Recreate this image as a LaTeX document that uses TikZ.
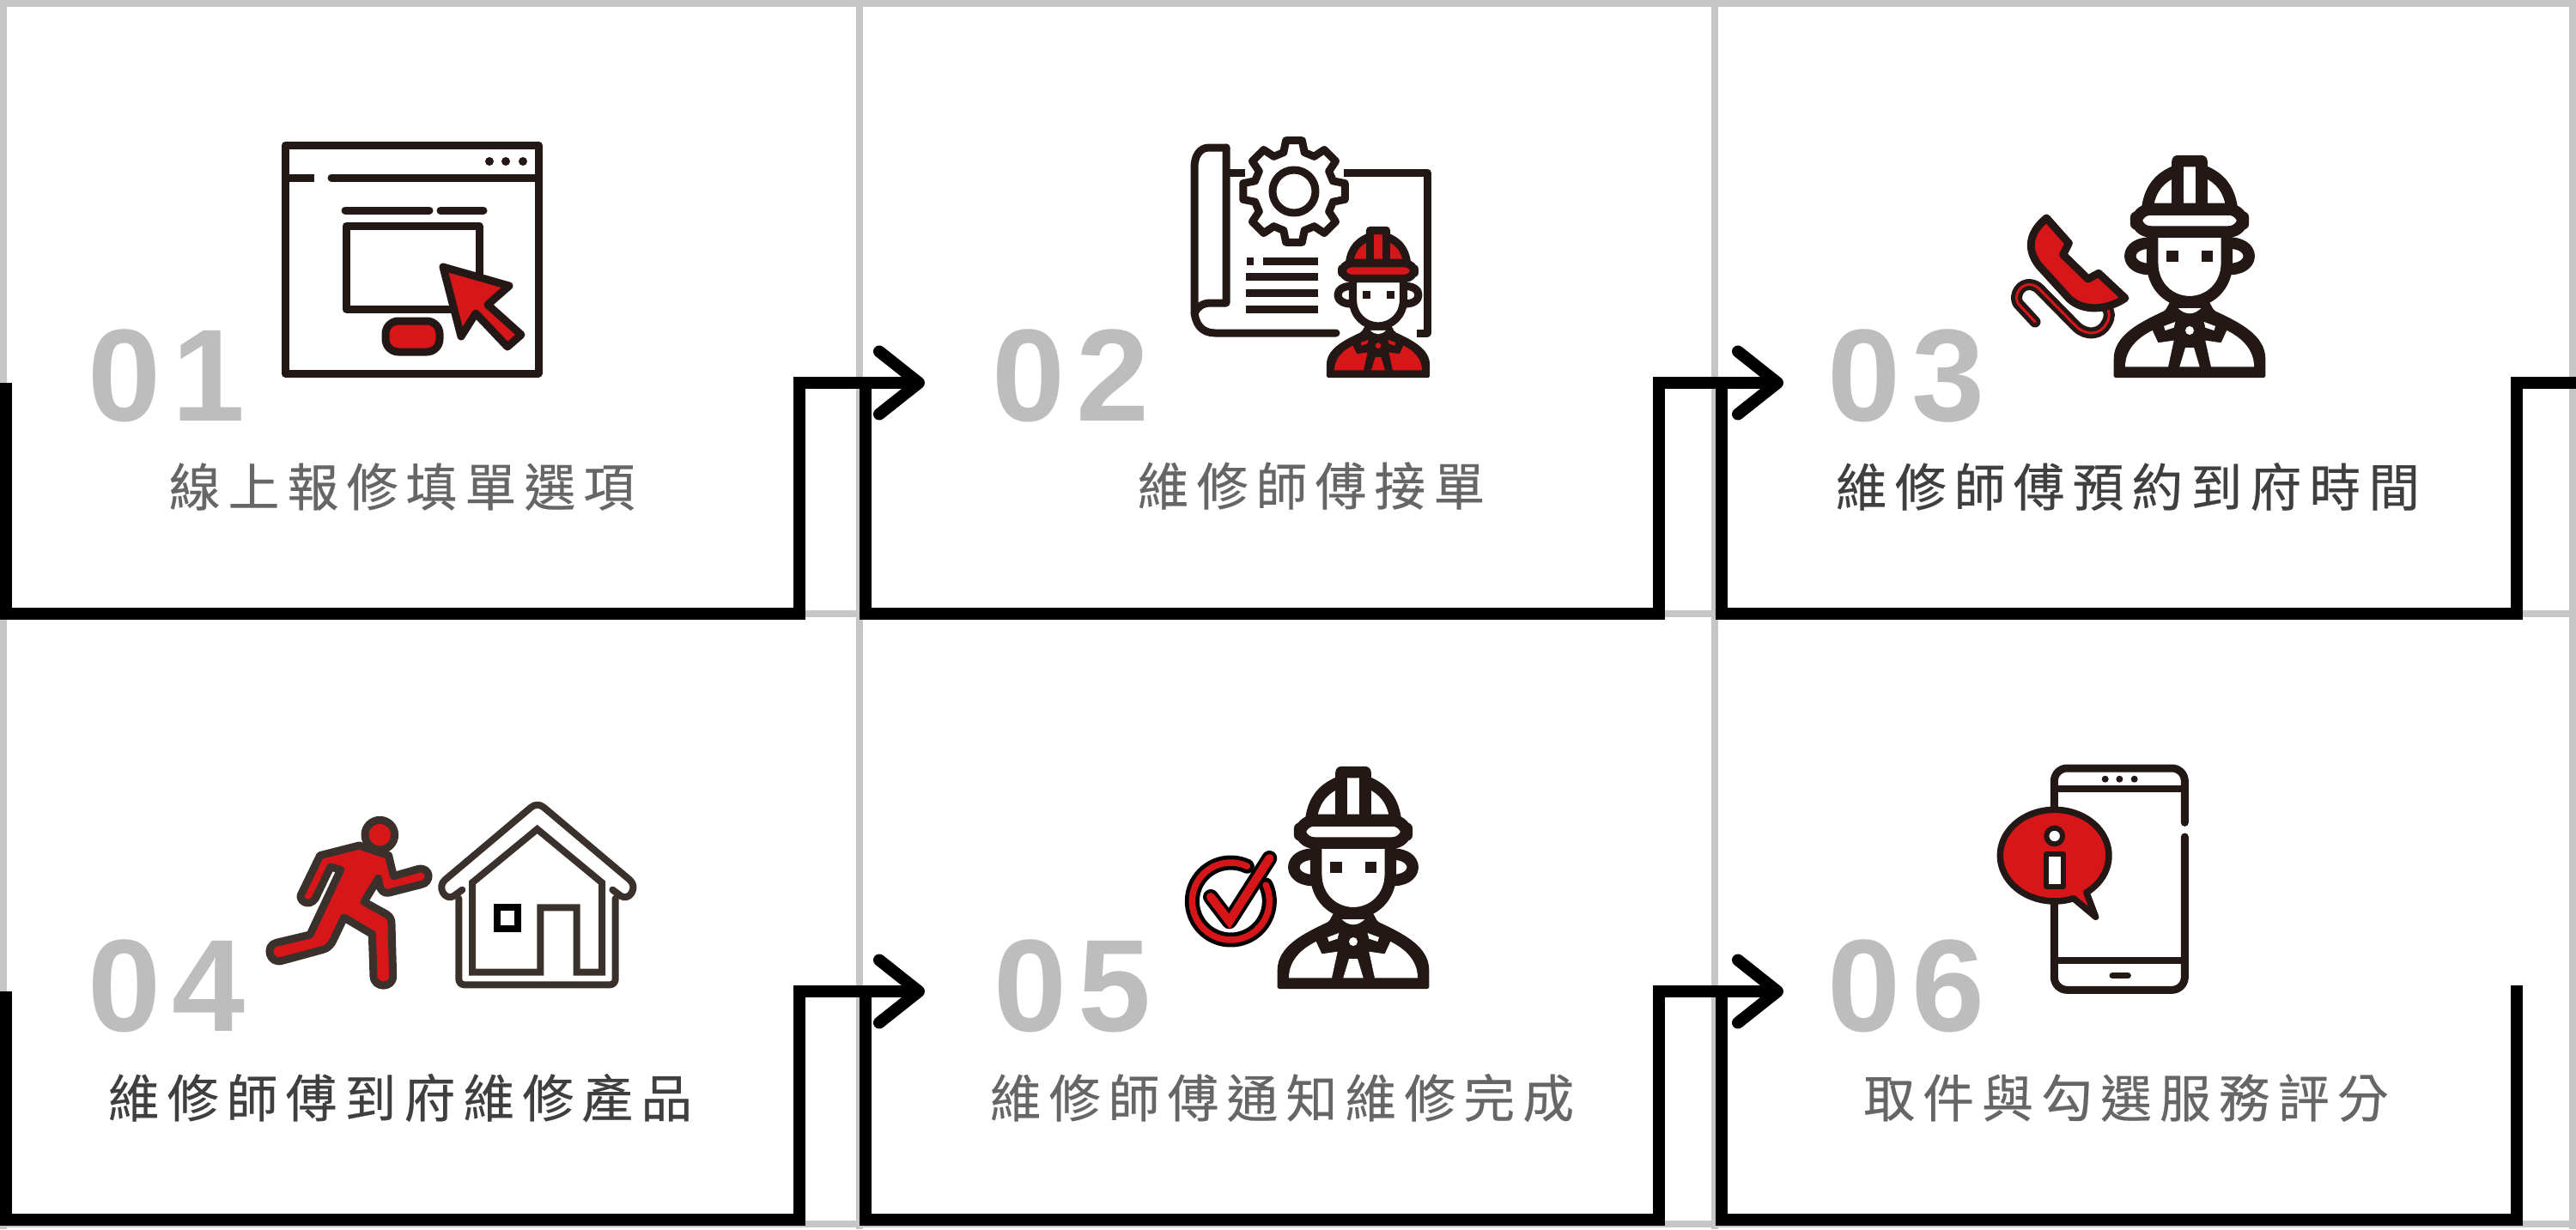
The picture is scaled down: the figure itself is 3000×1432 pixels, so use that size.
\documentclass[tikz,border=0pt]{standalone}
\usepackage{fontspec}
\usetikzlibrary{arrows.meta}
\newfontfamily\cjkfont[LetterSpace=15.4,FakeBold=0.4]{Noto Sans CJK TC}
\newfontfamily\numfont[LetterSpace=9]{Liberation Sans Bold}
\definecolor{ink}{HTML}{231815}
\definecolor{redf}{HTML}{D7161A}
\definecolor{gridg}{HTML}{C6C6C6}
\definecolor{numg}{HTML}{BDBDBD}
\definecolor{tmid}{HTML}{666666}
\definecolor{tdark}{HTML}{3F3F3F}
\definecolor{housec}{HTML}{3A302C}
\tikzset{
  gridline/.style={gridg,line width=1.6mm},
  flow/.style={black,line width=2.8mm,miter limit=10},
  flowarrow/.style={flow,-{Straight Barb[length=9.2mm,width=14.6mm,line width=2.8mm,round]}},
  label/.style={font=\cjkfont\fontsize{34}{34}\selectfont,anchor=center,inner sep=0pt},
  numlabel/.style={font=\numfont\fontsize{87}{87}\selectfont,numg,anchor=center,inner sep=0pt},
  icon/.style={ink,line width=#1*0.2mm,line join=round,line cap=round},
}
\newcommand{\personicon}[4]{%
  \pgfmathsetmacro\plw{13.5*#3}%
  \pgfmathsetmacro\psc{#3/3}%
  \begin{scope}[shift={(#1,#2)},scale=\psc,line join=round,line width=\plw*0.2mm]
    \fill[ink,rounded corners=1pt] (-265,0) -- (-265,-60) .. controls (-265,-150) and (-170,-195) .. (-85,-235) -- (-60,-280) -- (60,-280) -- (85,-235) .. controls (170,-195) and (265,-150) .. (265,-60) -- (265,0) -- cycle;
    \fill[#4] (-225,-38) .. controls (-225,-100) and (-180,-140) .. (-130,-165) -- (-110,-122) -- (-55,-130) -- (-75,-38) -- cycle;
    \fill[#4] (225,-38) .. controls (225,-100) and (180,-140) .. (130,-165) -- (110,-122) -- (55,-130) -- (75,-38) -- cycle;
    \fill[#4] (-15,-105) -- (15,-105) -- (35,-38) -- (-35,-38) -- cycle;
    \fill[#4] (-90,-180) -- (-50,-195) -- (-55,-175) -- (-85,-165) -- cycle;
    \fill[#4] (90,-180) -- (50,-195) -- (55,-175) -- (85,-165) -- cycle;
    \fill[#4] (0,-165) circle[radius=15];
    \fill[white] (-40,-243) .. controls (-15,-218) and (15,-218) .. (40,-243) -- cycle;
    \draw[ink,fill=white] (-125,-470) .. controls (-235,-480) and (-235,-370) .. (-125,-380);
    \draw[ink,fill=white] (125,-470) .. controls (235,-480) and (235,-370) .. (125,-380);
    \draw[ink,fill=white] (-130,-510) -- (-130,-400) .. controls (-130,-320) and (-70,-265) .. (0,-265) .. controls (70,-265) and (130,-320) .. (130,-400) -- (130,-510) -- cycle;
    \fill[ink] (-80,-445) rectangle (-40,-405);
    \fill[ink] (42,-445) rectangle (82,-405);
    \draw[ink,fill=#4] (-148,-590) .. controls (-138,-670) and (-95,-705) .. (-42,-725) -- (-42,-757) -- (42,-757) -- (42,-725) .. controls (95,-705) and (138,-670) .. (148,-590) -- cycle;
    \draw[ink] (-42,-757) -- (-42,-590);
    \draw[ink] (42,-757) -- (42,-590);
    \draw[ink,fill=#4,rounded corners=\plw*0.25mm] (-187,-588) rectangle (187,-510);
  \end{scope}%
}
\begin{document}
\begin{tikzpicture}[x=0.2mm,y=-0.2mm]
\useasboundingbox (0,0) rectangle (3000,1432);
\fill[white] (0,0) rectangle (3000,1432);
% grid
\draw[gridline] (0,4) -- (3000,4);
\draw[gridline] (0,715) -- (3000,715);
\draw[gridline] (0,1426) -- (3000,1426);
\draw[gridline] (4,0) -- (4,1432);
\draw[gridline] (1001,0) -- (1001,1432);
\draw[gridline] (1997,0) -- (1997,1432);
\draw[gridline] (2996,0) -- (2996,1432);
% flow coordinates, row 1
\coordinate (a1) at (7,446);   \coordinate (a2) at (7,715);   \coordinate (a3) at (931,715);  \coordinate (a4) at (931,446); \coordinate (a5) at (1077,446);
\coordinate (b1) at (1008,446);\coordinate (b2) at (1008,715);\coordinate (b3) at (1932,715); \coordinate (b4) at (1932,446);\coordinate (b5) at (2077,446);
\coordinate (c1) at (2005,446);\coordinate (c2) at (2005,715);\coordinate (c3) at (2931,715); \coordinate (c4) at (2931,446);\coordinate (c5) at (3000,446);
% row 2
\coordinate (d1) at (7,1155);   \coordinate (d2) at (7,1421);   \coordinate (d3) at (931,1421);  \coordinate (d4) at (931,1155); \coordinate (d5) at (1077,1155);
\coordinate (e1) at (1008,1155);\coordinate (e2) at (1008,1421);\coordinate (e3) at (1932,1421); \coordinate (e4) at (1932,1155);\coordinate (e5) at (2077,1155);
\coordinate (f1) at (2005,1155);\coordinate (f2) at (2005,1421);\coordinate (f3) at (2931,1421); \coordinate (f4) at (2931,1148);
\draw[flowarrow] (a1) -- (a2) -- (a3) -- (a4) -- (a5);
\draw[flowarrow] (b1) -- (b2) -- (b3) -- (b4) -- (b5);
\draw[flow] (c1) -- (c2) -- (c3) -- (c4) -- (c5);
\draw[flowarrow] (d1) -- (d2) -- (d3) -- (d4) -- (d5);
\draw[flowarrow] (e1) -- (e2) -- (e3) -- (e4) -- (e5);
\draw[flow] (f1) -- (f2) -- (f3) -- (f4);
% numbers
\node[numlabel] (n1) at (194,438) {01};
\node[numlabel] (n2) at (1247,438) {02};
\node[numlabel] (n3) at (2220,438) {03};
\node[numlabel] (n4) at (194,1149) {04};
\node[numlabel] (n5) at (1249,1149) {05};
\node[numlabel] (n6) at (2220,1149) {06};
% labels
\node[label,tmid]  (t1) at (468,567)  {線上報修填單選項};
\node[label,tmid]  (t2) at (1527,566) {維修師傅接單};
\node[label,tdark] (t3) at (2478,567) {維修師傅預約到府時間};
\node[label,tdark] (t4) at (466,1279) {維修師傅到府維修產品};
\node[label,tmid]  (t5) at (1493,1279){維修師傅通知維修完成};
\node[label,tmid]  (t6) at (2476,1279){取件與勾選服務評分};
% icon 1
\begin{scope}[icon=9]
  \draw (332,169) rectangle (627,435);
  \draw[line cap=butt] (332,207) -- (366,207);
  \draw (386,207) -- (627,207);
  \fill (570,188) circle[radius=5]; \fill (589,188) circle[radius=5]; \fill (609,188) circle[radius=5];
  \draw (402,245) -- (500,245); \draw (513,245) -- (563,245);
  \draw (403,263) rectangle (558,360);
  \draw[fill=redf] (516,311) -- (593,333) -- (568,355) -- (607,390) -- (591,404) -- (554,365) -- (537,392) -- cycle;
  \draw[fill=redf,rounded corners=3mm] (449,374) rectangle (512,410);
\end{scope}
% icon 2
\begin{scope}[icon=9]
  \draw (1428,172) -- (1408,172) .. controls (1397,172) and (1391,182) .. (1391,195) -- (1391,360) .. controls (1391,378) and (1400,388) .. (1415,388) -- (1556,388);
  \draw (1428,172) -- (1428,353) -- (1410,353) .. controls (1400,353) and (1394,358) .. (1391,365);
  \draw[line cap=butt] (1428,201) -- (1450,201);
  \draw[line cap=butt] (1565,201) -- (1662,201) -- (1662,388) -- (1650,388);
  \draw[fill=white] (1507,223) circle[radius=25];
  \draw ({1507+47*cos(-15)},{223+47*sin(-15)})
    \foreach \a in {0,45,...,315} {
      -- ({1507+60*cos(\a-9)},{223+60*sin(\a-9)})
      -- ({1507+60*cos(\a+9)},{223+60*sin(\a+9)})
      -- ({1507+47*cos(\a+15)},{223+47*sin(\a+15)})
      -- ({1507+47*cos(\a+30)},{223+47*sin(\a+30)})
    } -- cycle;
  \draw[line cap=butt] (1452,304) -- (1460,304);
  \draw[line cap=butt] (1471,304) -- (1535,304);
  \draw[line cap=butt] (1451,322) -- (1535,322);
  \draw[line cap=butt] (1451,341) -- (1535,341);
  \draw[line cap=butt] (1451,360) -- (1535,360);
\end{scope}
\personicon{1605}{440}{0.68}{redf}
% icon 3
\personicon{2550}{440}{1}{white}
\begin{scope}[shift={(2250,140)},scale=1/3]
  \draw[icon=13] (360,705) -- (300,640) .. controls (285,610) and (310,570) .. (345,575) .. controls (358,577) and (368,583) .. (375,590) -- (505,722) .. controls (540,755) and (590,750) .. (610,710) .. controls (622,690) and (622,670) .. (610,655);
  \draw[redf,line width=0.6mm,line cap=round,line join=round] (360,705) -- (300,640) .. controls (285,610) and (310,570) .. (345,575) .. controls (358,577) and (368,583) .. (375,590) -- (505,722) .. controls (540,755) and (590,750) .. (610,710) .. controls (622,690) and (622,670) .. (610,655);
  \draw[icon=9,fill=redf] (400,342) -- (478,430) -- (458,470) -- (545,555) -- (582,535) -- (675,622) .. controls (610,665) and (530,670) .. (480,625) -- (375,510) .. controls (335,460) and (330,400) .. (400,342) -- cycle;
\end{scope}
% icon 4
\begin{scope}[shift={(280,900)},scale=1/3]
  \draw[icon=9,housec,fill=redf] (415,255) -- (518,290) -- (535,362) -- (622,337) .. controls (665,330) and (670,385) .. (630,392) -- (520,420) .. controls (500,425) and (490,410) .. (485,395) -- (482,370) -- (432,452) -- (510,495) .. controls (525,505) and (528,515) .. (528,530) -- (533,712) .. controls (533,755) and (467,755) .. (465,712) -- (460,565) -- (362,507) -- (325,585) .. controls (315,605) and (305,615) .. (285,620) -- (145,658) .. controls (100,670) and (85,605) .. (125,595) -- (243,567) -- (350,340) -- (315,330) -- (262,440) .. controls (240,475) and (195,445) .. (215,420) -- (278,290) -- cycle;
  \draw[icon=9,housec,fill=redf] (487,218) circle[radius=52];
  \draw[icon=8,housec] (775,410) -- (745,432) .. controls (715,450) and (685,400) .. (715,375) -- (1015,122) .. controls (1030,110) and (1045,110) .. (1060,122) -- (1360,375) .. controls (1390,400) and (1360,450) .. (1330,432) -- (1300,410);
  \draw[icon=8,housec,rounded corners=1.3mm] (763,440) -- (763,742) -- (1310,742) -- (1310,440);
  \draw[icon=8,housec,line join=miter] (810,385) -- (1037,198) -- (1263,385) -- (1263,698) -- (1175,698) -- (1175,472) -- (1048,472) -- (1048,698) -- (810,698) -- cycle;
  \draw[line width=1.6mm,black] (898,472) rectangle (970,545);
\end{scope}
% icon 5
\personicon{1576}{1152}{1}{white}
\begin{scope}[shift={(1350,870)},scale=1/3]
  \draw[icon=17,black] plot[domain=-25:295,samples=60] ({250+135*cos(\x)},{540+135*sin(\x)});
  \draw[redf,line width=1.5mm,line cap=round] plot[domain=-25:295,samples=60] ({250+135*cos(\x)},{540+135*sin(\x)});
  \draw[icon=18,black] (180,525) -- (245,610) -- (385,390);
  \draw[redf,line width=2mm,line cap=round,line join=miter] (180,525) -- (245,610) -- (385,390);
\end{scope}
% icon 6
\begin{scope}[shift={(2300,870)},scale=1/3]
  \draw[icon=9,rounded corners=3mm] (733,265) -- (733,75) -- (277,75) -- (277,850) -- (733,850) -- (733,315);
  \draw[icon=8,line cap=butt] (277,148) -- (733,148);
  \draw[icon=8,line cap=butt] (277,748) -- (733,748);
  \fill[ink] (455,113) circle[radius=12]; \fill[ink] (505,113) circle[radius=12]; \fill[ink] (557,113) circle[radius=12];
  \draw[icon=7] (480,800) -- (535,800);
  \draw[icon=7.5,fill=redf] plot[domain=69.5:414,samples=80] ({278+190*cos(\x)},{380+160*sin(\x)}) -- (422,595) -- cycle;
  \draw[icon=6,fill=white] (278,312) circle[radius=28];
  \draw[icon=6,fill=white] (250,375) rectangle (308,490);
\end{scope}
\end{tikzpicture}
\end{document}
